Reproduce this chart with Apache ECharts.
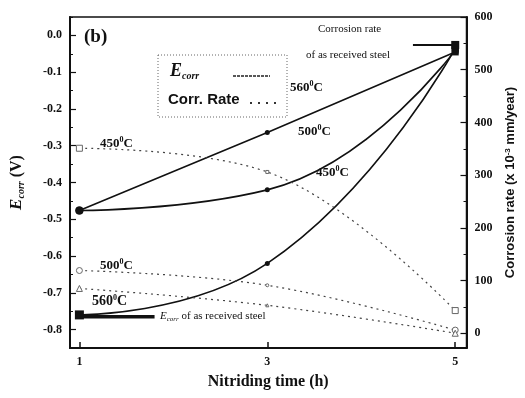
<!DOCTYPE html>
<html>
<head>
<meta charset="utf-8">
<script src="https://cdn.jsdelivr.net/npm/echarts@6/dist/echarts.min.js"></script>
<style>html,body{margin:0;padding:0;background:#fff}#c{width:525px;height:398px}</style>
</head>
<body>
<div id="c"></div>
<script>
// ---- data ----
var timeH = [1, 3, 5];
var ecorr450 = [-0.76, -0.62, -0.035];
var ecorr500 = [-0.476, -0.42, -0.04];
var ecorr560 = [-0.476, -0.264, -0.045];
var rate450 = [351, 306, 43];
var rate500 = [119, 91, 6];
var rate560 = [85, 53, 0];
var asReceivedEcorr = -0.765;
var asReceivedEcorrSpan = [1, 1.8];
var asReceivedRate = 547;
var asReceivedRateSpan = [4.55, 5];
var leftTicks = [-0.8, -0.7, -0.6, -0.5, -0.4, -0.3, -0.2, -0.1, 0.0];
var rightTicks = [0, 100, 200, 300, 400, 500, 600];
var xTicks = [1, 3, 5];

var SERIF = '"Liberation Serif", "DejaVu Serif", serif';
var SANS = '"Liberation Sans", Arial, sans-serif';

var chart = echarts.init(document.getElementById('c'), null, {renderer: 'canvas'});

function pts(xs, ys, syms) {
  return xs.map(function (x, i) {
    var d = {value: [x, ys[i]]};
    if (syms) { d.symbol = syms[i][0]; d.symbolSize = syms[i][1]; }
    return d;
  });
}

var minorLeft = [], minorRight = [];
for (var k = 0; k <= 18; k++) minorLeft.push(Math.round((-0.85 + k * 0.05) * 100) / 100);
for (var m = 0; m <= 12; m++) minorRight.push(m * 50);

var solidStyle = {color: '#111', width: 1.6};
var dashStyle = {color: '#444', width: 1.2, type: [2, 4]};
var rateSyms = function (s) { return [[s, 6], [s, 3], [s, 6]]; };

var option = {
  animation: false,
  grid: {left: 70, right: 58, top: 17, bottom: 50, show: true, borderColor: '#111', borderWidth: 1.5},
  xAxis: [{
    type: 'value', min: 0.9, max: 5.12,
    splitLine: {show: false},
    axisLine: {onZero: false, lineStyle: {color: '#111', width: 2}},
    axisTick: {inside: true, length: 6, customValues: xTicks, lineStyle: {color: '#111', width: 1.5}},
    axisLabel: {customValues: xTicks, color: '#111', fontFamily: SERIF, fontWeight: 'bold', fontSize: 12, margin: 8},
    name: 'Nitriding time (h)', nameLocation: 'middle', nameGap: 26,
    nameTextStyle: {fontFamily: SERIF, fontWeight: 'bold', fontSize: 16, color: '#111'}
  }],
  yAxis: [{
    type: 'value', position: 'left', min: -0.85, max: 0.05,
    splitLine: {show: false},
    axisLine: {show: true, onZero: false, lineStyle: {color: '#111', width: 2}},
    axisTick: {show: true, inside: true, length: 6, customValues: leftTicks, lineStyle: {color: '#111', width: 1.2}},
    axisLabel: {customValues: leftTicks, color: '#111', fontFamily: SERIF, fontWeight: 'bold', fontSize: 12, margin: 8,
      formatter: function (v) { return v.toFixed(1); }},
    name: '{e|E}{s|corr} (V)', nameLocation: 'middle', nameRotate: 90, nameGap: 44,
    nameTextStyle: {fontFamily: SERIF, fontWeight: 'bold', fontSize: 16, color: '#111',
      rich: {e: {fontFamily: SERIF, fontStyle: 'italic', fontWeight: 'bold', fontSize: 17, color: '#111'},
             s: {fontFamily: SERIF, fontStyle: 'italic', fontWeight: 'bold', fontSize: 10, color: '#111', verticalAlign: 'bottom', padding: [8, 0, 0, 0]}}}
  }, {
    type: 'value', position: 'right', min: -28, max: 600,
    splitLine: {show: false},
    axisLine: {show: true, onZero: false, lineStyle: {color: '#111', width: 2}},
    axisTick: {show: true, inside: true, length: 6, customValues: rightTicks, lineStyle: {color: '#111', width: 1.2}},
    axisLabel: {customValues: rightTicks, color: '#111', fontFamily: SERIF, fontWeight: 'bold', fontSize: 12, margin: 8},
    name: 'Corrosion rate (x 10{sup|-3} mm/year)', nameLocation: 'middle', nameRotate: 90, nameGap: 37,
    nameTextStyle: {fontFamily: SANS, fontWeight: 'bold', fontSize: 13, color: '#111',
      rich: {sup: {fontFamily: SANS, fontWeight: 'bold', fontSize: 8, color: '#111', verticalAlign: 'top', padding: [0, 0, 6, 0]}}}
  }, {
    type: 'value', position: 'left', min: -0.85, max: 0.05,
    splitLine: {show: false}, axisLine: {show: false, onZero: false},
    axisTick: {show: true, inside: true, length: 3, customValues: minorLeft, lineStyle: {color: '#111', width: 1}},
    axisLabel: {show: false}
  }, {
    type: 'value', position: 'right', min: -28, max: 600,
    splitLine: {show: false}, axisLine: {show: false, onZero: false},
    axisTick: {show: true, inside: true, length: 3, customValues: minorRight, lineStyle: {color: '#111', width: 1}},
    axisLabel: {show: false}
  }],
  series: [
    {type: 'line', yAxisIndex: 0, smooth: 0.5, lineStyle: solidStyle, itemStyle: {color: '#111'},
      data: pts(timeH, ecorr450, [['rect', 9], ['circle', 5], ['rect', 7]])},
    {type: 'line', yAxisIndex: 0, smooth: 0.5, lineStyle: solidStyle, itemStyle: {color: '#111'},
      data: pts(timeH, ecorr500, [['circle', 8], ['circle', 5], ['rect', 7]])},
    {type: 'line', yAxisIndex: 0, smooth: 0.5, lineStyle: solidStyle, itemStyle: {color: '#111'},
      data: pts(timeH, ecorr560, [['circle', 8], ['circle', 5], ['rect', 7]])},
    {type: 'line', yAxisIndex: 1, smooth: 0.4, lineStyle: dashStyle,
      itemStyle: {color: '#fff', borderColor: '#666', borderWidth: 1},
      data: pts(timeH, rate450, rateSyms('rect'))},
    {type: 'line', yAxisIndex: 1, smooth: 0.4, lineStyle: dashStyle,
      itemStyle: {color: '#fff', borderColor: '#666', borderWidth: 1},
      data: pts(timeH, rate500, rateSyms('circle'))},
    {type: 'line', yAxisIndex: 1, smooth: 0.4, lineStyle: dashStyle,
      itemStyle: {color: '#fff', borderColor: '#666', borderWidth: 1},
      data: pts(timeH, rate560, rateSyms('triangle'))},
    {type: 'line', yAxisIndex: 0, symbol: 'none', lineStyle: {color: '#111', width: 3.5},
      data: asReceivedEcorrSpan.map(function (x) { return [x, asReceivedEcorr]; })},
    {type: 'line', yAxisIndex: 1, symbol: 'none', lineStyle: {color: '#111', width: 2},
      data: asReceivedRateSpan.map(function (x) { return [x, asReceivedRate]; }),
      markPoint: {symbol: 'rect', symbolSize: 8, itemStyle: {color: '#111'}, label: {show: false},
        data: [{coord: [asReceivedRateSpan[1], asReceivedRate]}]}}
  ],
  graphic: [
    {type: 'text', left: 84, top: 28, style: {text: '(b)', font: 'bold 19px ' + SERIF, fill: '#111'}},
    {type: 'rect', shape: {x: 158, y: 55, width: 129, height: 62}, style: {fill: 'none', stroke: '#666', lineWidth: 1, lineDash: [1, 2]}},
    {type: 'text', left: 170, top: 62, style: {rich: {e: {font: 'italic bold 18px ' + SERIF, fill: '#111'}, s: {font: 'italic bold 10px ' + SERIF, fill: '#111', padding: [10, 0, 0, 0]}}, text: '{e|E}{s|corr}'}},
    {type: 'line', shape: {x1: 233, y1: 76, x2: 270, y2: 76}, style: {stroke: '#222', lineWidth: 1.5, lineDash: [3, 1]}},
    {type: 'text', left: 168, top: 92, style: {text: 'Corr. Rate', font: 'bold 15px ' + SANS, fill: '#111'}},
    {type: 'line', shape: {x1: 250, y1: 103, x2: 276, y2: 103}, style: {stroke: '#333', lineWidth: 2, lineDash: [2, 6]}},
    {type: 'text', left: 318, top: 24, style: {text: 'Corrosion rate', font: '11px ' + SERIF, fill: '#111'}},
    {type: 'text', left: 306, top: 50, style: {text: 'of as received steel', font: '11px ' + SERIF, fill: '#111'}},
    {type: 'text', left: 290, top: 80, style: {rich: {n: {font: 'bold 13px ' + SERIF, fill: '#111'}, p: {font: 'bold 8px ' + SERIF, fill: '#111', padding: [0, 0, 7, 0]}}, text: '{n|560}{p|0}{n|C}'}},
    {type: 'text', left: 298, top: 124, style: {rich: {n: {font: 'bold 13px ' + SERIF, fill: '#111'}, p: {font: 'bold 8px ' + SERIF, fill: '#111', padding: [0, 0, 7, 0]}}, text: '{n|500}{p|0}{n|C}'}},
    {type: 'text', left: 316, top: 165, style: {rich: {n: {font: 'bold 13px ' + SERIF, fill: '#111'}, p: {font: 'bold 8px ' + SERIF, fill: '#111', padding: [0, 0, 7, 0]}}, text: '{n|450}{p|0}{n|C}'}},
    {type: 'text', left: 100, top: 136, style: {rich: {n: {font: 'bold 13px ' + SERIF, fill: '#111'}, p: {font: 'bold 8px ' + SERIF, fill: '#111', padding: [0, 0, 7, 0]}}, text: '{n|450}{p|0}{n|C}'}},
    {type: 'text', left: 100, top: 258, style: {rich: {n: {font: 'bold 13px ' + SERIF, fill: '#111'}, p: {font: 'bold 8px ' + SERIF, fill: '#111', padding: [0, 0, 7, 0]}}, text: '{n|500}{p|0}{n|C}'}},
    {type: 'text', left: 92, top: 294, style: {rich: {n: {font: 'bold 14px ' + SERIF, fill: '#111'}, p: {font: 'bold 8px ' + SERIF, fill: '#111', padding: [0, 0, 7, 0]}}, text: '{n|560}{p|0}{n|C}'}},
    {type: 'text', left: 160, top: 311, style: {rich: {e: {font: 'italic 11px ' + SERIF, fill: '#111'}, s: {font: 'italic 7px ' + SERIF, fill: '#111', padding: [6, 0, 0, 0]}, t: {font: '11px ' + SERIF, fill: '#111'}}, text: '{e|E}{s|corr}{t| of as received steel}'}}
  ]
};
chart.setOption(option);
</script>
</body>
</html>
